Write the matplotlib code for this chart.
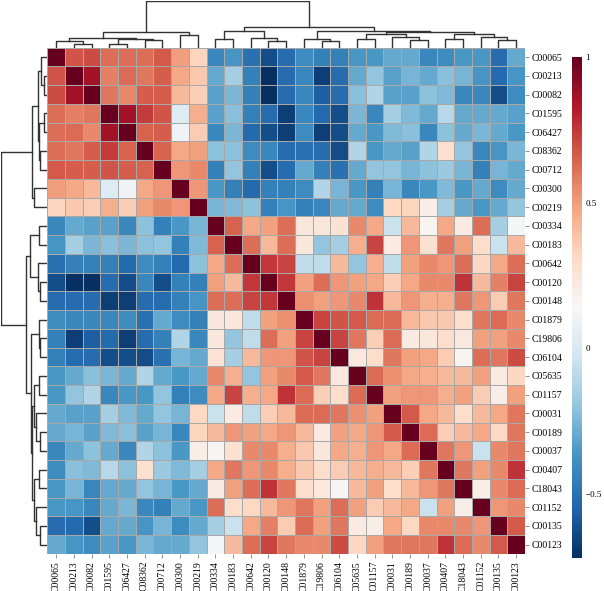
import matplotlib
matplotlib.use("Agg")
import matplotlib.pyplot as plt
import numpy as np

plt.rcParams['font.family'] = ['Liberation Serif', 'DejaVu Serif']

labels = ['C00065', 'C00213', 'C00082', 'C01595', 'C06427', 'C08362', 'C00712',
          'C00300', 'C00219', 'C00334', 'C00183', 'C00642', 'C00120', 'C00148',
          'C01879', 'C19806', 'C06104', 'C05635', 'C01157', 'C00031', 'C00189',
          'C00037', 'C00407', 'C18043', 'C01152', 'C00135', 'C00123']

# upper triangle of the correlation matrix, row i holds columns i+1 .. end
upper = [
    [0.68, 0.70, 0.62, 0.62, 0.62, 0.67, 0.50, 0.33, -0.42, -0.37, -0.50, -0.62, -0.52, -0.40, -0.45, -0.45, -0.36, -0.36, -0.30, -0.30, -0.42, -0.40, -0.36, -0.36, -0.52, -0.30],
    [0.86, 0.57, 0.63, 0.60, 0.66, 0.47, 0.37, -0.30, -0.15, -0.45, -0.72, -0.52, -0.42, -0.67, -0.52, -0.30, -0.20, -0.33, -0.26, -0.30, -0.22, -0.26, -0.37, -0.53, -0.37],
    [0.60, 0.55, 0.66, 0.66, 0.42, 0.35, -0.33, -0.25, -0.45, -0.72, -0.52, -0.42, -0.57, -0.52, -0.22, -0.12, -0.33, -0.33, -0.21, -0.24, -0.42, -0.42, -0.62, -0.40],
    [0.86, 0.74, 0.68, 0.02, 0.45, -0.33, -0.22, -0.45, -0.52, -0.67, -0.42, -0.53, -0.62, -0.25, -0.42, -0.15, -0.24, -0.30, -0.10, -0.30, -0.30, -0.30, -0.33],
    [0.65, 0.66, 0.10, 0.36, -0.42, -0.25, -0.53, -0.62, -0.67, -0.40, -0.67, -0.62, -0.30, -0.36, -0.24, -0.22, -0.42, -0.21, -0.30, -0.25, -0.30, -0.36],
    [0.65, 0.47, 0.49, -0.21, -0.21, -0.40, -0.42, -0.52, -0.50, -0.52, -0.63, -0.12, -0.36, -0.30, -0.33, -0.12, 0.28, -0.20, -0.42, -0.37, -0.25],
    [0.52, 0.55, -0.45, -0.20, -0.45, -0.62, -0.52, -0.30, -0.45, -0.50, -0.30, -0.20, -0.20, -0.26, -0.21, -0.18, -0.26, -0.45, -0.26, -0.30],
    [0.52, -0.36, -0.45, -0.53, -0.45, -0.45, -0.40, -0.12, -0.26, -0.36, -0.45, -0.26, -0.42, -0.36, -0.24, -0.36, -0.30, -0.40, -0.30],
    [-0.26, -0.24, -0.21, -0.45, -0.37, -0.45, -0.42, -0.30, -0.30, -0.40, 0.32, 0.33, 0.20, -0.15, -0.30, -0.36, -0.30, -0.20],
    [0.65, 0.47, 0.49, 0.62, 0.24, 0.24, 0.27, 0.55, 0.47, -0.05, 0.42, 0.16, 0.47, 0.22, 0.62, -0.15, 0.12],
    [0.62, 0.42, 0.62, 0.24, -0.20, -0.15, 0.45, 0.72, 0.22, 0.52, 0.28, 0.60, 0.49, 0.30, -0.05, 0.42],
    [0.75, 0.72, -0.08, -0.08, 0.42, -0.20, 0.45, -0.08, 0.49, 0.55, 0.52, 0.62, 0.32, 0.47, 0.62],
    [0.75, 0.49, 0.62, 0.52, 0.49, 0.47, 0.35, 0.47, 0.55, 0.55, 0.76, 0.42, 0.57, 0.72],
    [0.53, 0.49, 0.52, 0.55, 0.76, 0.42, 0.52, 0.45, 0.45, 0.60, 0.52, 0.36, 0.60],
    [0.72, 0.68, 0.67, 0.63, 0.63, 0.42, 0.37, 0.37, 0.30, 0.60, 0.63, 0.55],
    [0.72, 0.60, 0.35, 0.63, 0.22, 0.24, 0.30, 0.23, 0.49, 0.49, 0.55],
    [0.23, 0.30, 0.60, 0.49, 0.47, 0.36, 0.16, 0.62, 0.60, 0.70],
    [0.63, 0.53, 0.47, 0.45, 0.42, 0.42, 0.49, 0.22, 0.32],
    [0.49, 0.52, 0.52, 0.45, 0.49, 0.36, 0.20, 0.49],
    [0.67, 0.47, 0.42, 0.30, 0.42, 0.47, 0.60],
    [0.63, 0.35, 0.42, 0.47, 0.32, 0.60],
    [0.60, 0.52, -0.05, 0.55, 0.60],
    [0.60, 0.49, 0.55, 0.76],
    [0.20, 0.55, 0.63],
    [0.52, 0.55],
    [0.67],
]

# linkage: (left, right, height), new cluster ids start at 27
merges = [
    (1, 2, 0.08), (3, 4, 0.08), (0, 27, 0.14), (5, 6, 0.16), (28, 30, 0.19),
    (29, 31, 0.21), (7, 8, 0.28), (32, 33, 0.34),
    (9, 10, 0.19), (12, 13, 0.15), (11, 36, 0.21), (35, 37, 0.37),
    (15, 16, 0.15), (14, 39, 0.19), (17, 18, 0.19), (20, 21, 0.16),
    (19, 42, 0.24), (41, 43, 0.30), (22, 23, 0.19), (25, 26, 0.16),
    (24, 46, 0.24), (45, 47, 0.29), (44, 48, 0.33), (40, 49, 0.36),
    (38, 50, 0.455), (34, 51, 1.0),
]

n = len(labels)
M = np.eye(n)
for i, row in enumerate(upper):
    for k, v in enumerate(row):
        j = i + 1 + k
        M[i, j] = v
        M[j, i] = v

W, H = 604, 591
fig = plt.figure(figsize=(W / 100, H / 100), dpi=100)

hx0, hx1, hy0, hy1 = 47.3, 525.0, 47.7, 554.0
ax = fig.add_axes([hx0 / W, 1 - hy1 / H, (hx1 - hx0) / W, (hy1 - hy0) / H])
ax_col = fig.add_axes([hx0 / W, 1 - hy0 / H, (hx1 - hx0) / W, (hy0 - 0.5) / H])
ax_row = fig.add_axes([0.5 / W, 1 - hy1 / H, (hx0 - 0.5) / W, (hy1 - hy0) / H])
cax = fig.add_axes([572 / W, 1 - 558 / H, 9.5 / W, 501 / H])

mesh = ax.pcolormesh(M, cmap='RdBu_r', vmin=M.min(), vmax=M.max(),
                     edgecolors='#a8a8a8', linewidth=0.6)
ax.set_xlim(0, n)
ax.set_ylim(n, 0)
ax.set_xticks(np.arange(n) + 0.5)
ax.set_xticklabels(labels, rotation=90, fontsize=7)
ax.set_yticks(np.arange(n) + 0.5)
ax.set_yticklabels(labels, fontsize=7)
ax.yaxis.tick_right()
ax.tick_params(length=3, width=0.5, color='#666666', pad=2)
for s in ax.spines.values():
    s.set_visible(False)

# dendrograms
pos = {i: i + 0.5 for i in range(n)}
hgt = {i: 0.0 for i in range(n)}
for k, (a, b, h) in enumerate(merges):
    xa, xb = pos[a], pos[b]
    ax_col.plot([xa, xa, xb, xb], [hgt[a], h, h, hgt[b]], color='#333333', lw=1)
    ax_row.plot([hgt[a], h, h, hgt[b]], [xa, xa, xb, xb], color='#333333', lw=1)
    pos[n + k] = (xa + xb) / 2
    hgt[n + k] = h

ax_col.set_xlim(0, n)
ax_col.set_ylim(0, 1.02)
ax_row.set_ylim(n, 0)
ax_row.set_xlim(1.02, 0)
for a in (ax_col, ax_row):
    a.axis('off')

cb = fig.colorbar(mesh, cax=cax)
cb.outline.set_visible(False)
cb.set_ticks([-0.5, 0, 0.5, 1])
cb.set_ticklabels(['\u22120.5', '0', '0.5', '1'])
cax.tick_params(length=0, labelsize=6.5, pad=3)

fig.savefig('out.png', dpi=100)
